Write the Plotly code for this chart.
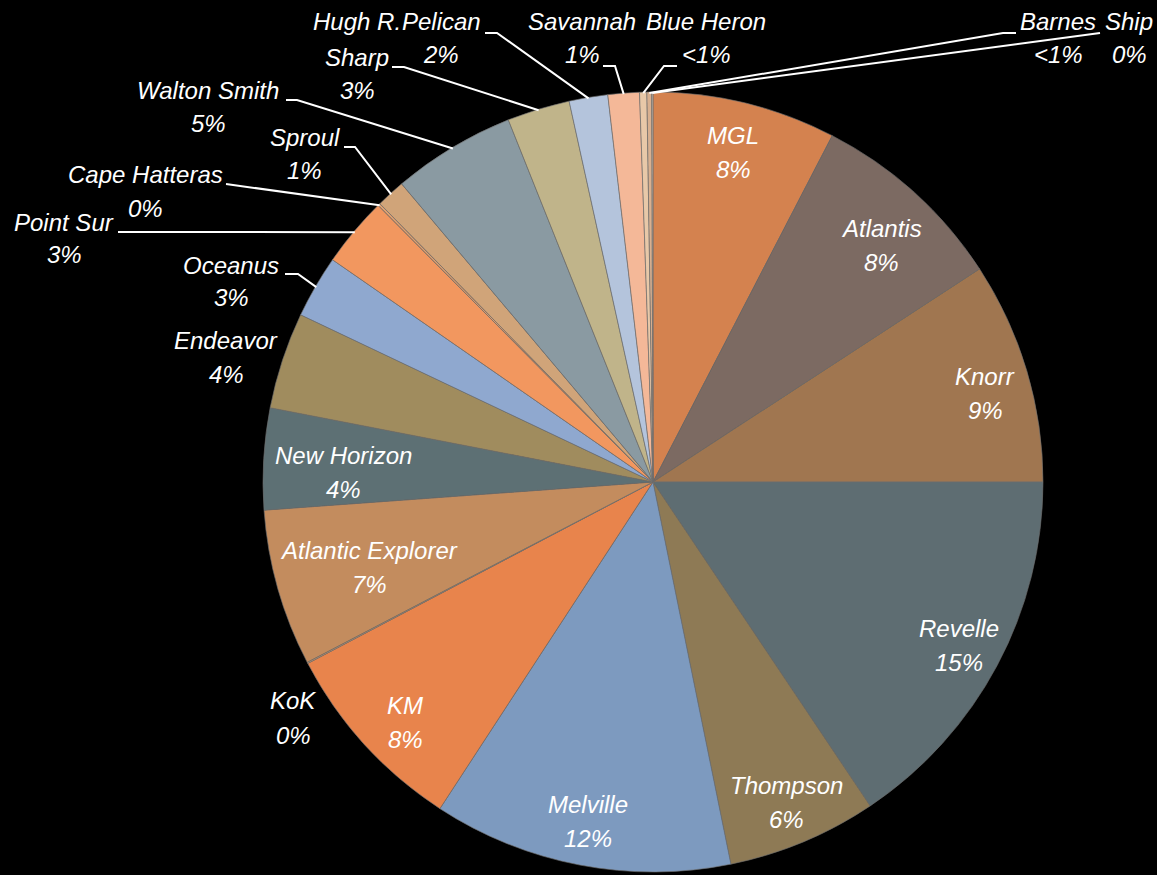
import math
import plotly.graph_objects as go

# ---------------- data ----------------
ships = ["MGL", "Atlantis", "Knorr", "Revelle", "Thompson", "Melville", "KM", "KoK",
         "Atlantic Explorer", "New Horizon", "Endeavor", "Oceanus", "Point Sur",
         "Cape Hatteras", "Sproul", "Walton Smith", "Hugh R. Sharp", "Pelican",
         "Savannah", "Blue Heron", "Barnes", "Ship"]
shares = [7.6, 8.2, 9.2, 15.6, 6.2, 12.4, 8.1, 0.05,
          6.5, 4.2, 4.0, 2.6, 2.9,
          0.1, 1.2, 5.1, 2.6, 1.6,
          1.3, 0.3, 0.2, 0.05]
pct_labels = ["8%", "8%", "9%", "15%", "6%", "12%", "8%", "0%",
              "7%", "4%", "4%", "3%", "3%",
              "0%", "1%", "5%", "3%", "2%",
              "1%", "<1%", "<1%", "0%"]

# ---------------- styles ----------------
colors = ["#d4824f", "#7c6a62", "#a07650", "#5e6d72", "#8e7a55", "#7d9abf", "#e8844c", "#c89a70",
          "#c38c5e", "#5d7074", "#a08c5e", "#8fa8cf", "#f2975f",
          "#e0a070", "#d0a479", "#8a9aa2", "#c0b48a", "#b4c4dc",
          "#f4b898", "#e8c8a8", "#d8b090", "#c8b8a8"]

W, H = 1157, 875
CX, CY, R = 653, 482, 390

# inside labels: (radial position as fraction of radius, angular nudge in degrees)
inside_pos = {"MGL": (0.87, 0), "Atlantis": (0.843, 2), "Knorr": (0.882, 1.6),
              "Revelle": (0.89, 0), "Thompson": (0.89, 0), "Melville": (0.885, 0),
              "KM": (0.885, -1.8), "Atlantic Explorer": (0.76, -1),
              "New Horizon": (0.795, -1.7)}
# outside labels: text center x, line centers y, leader tail points (px)
outside = {
    "KoK": (293, [700, 735], []),
    "Endeavor": (226, [340, 374], []),
    "Oceanus": (231, [265, 297], [(285, 274), (298, 274)]),
    "Point Sur": (64, [222, 255], [(118, 232)]),
    "Cape Hatteras": (145, [175, 208], [(226, 184)]),
    "Sproul": (305, [137, 170], [(344, 147), (355, 147)]),
    "Walton Smith": (208, [90, 123], [(286, 100), (297, 100)]),
    "Hugh R. Sharp": (357, [22, 57, 90], [(392, 67), (404, 67)]),
    "Pelican": (441, [22, 55], [(485, 33), (497, 33)]),
    "Savannah": (582, [22, 55], [(603, 66), (615, 66)]),
    "Blue Heron": (706, [22, 55], [(677, 66), (664, 66)]),
    "Barnes": (1058, [22, 55], [(1016, 33), (1003, 33)]),
    "Ship": (1129, [22, 55], [(1100, 33)]),
}
line_texts = {"Hugh R. Sharp": ["Hugh R.", "Sharp"]}

FONT = dict(family="Liberation Sans, Arial, sans-serif", size=24, color="white", style="italic")


def px2paper(x, y):
    return x / W, 1 - y / H


fig = go.Figure(go.Pie(
    labels=ships, values=shares, sort=False, direction="clockwise", rotation=0,
    marker=dict(colors=colors, line=dict(color="rgba(110,110,110,0.9)", width=0.7)),
    textinfo="none", hoverinfo="label+percent", showlegend=False,
    domain=dict(x=[(CX - R) / W, (CX + R) / W], y=[(H - CY - R) / H, (H - CY + R) / H]),
))

total = sum(shares)
annotations, shapes = [], []
cum = 0.0
for name, v, pct in zip(ships, shares, pct_labels):
    a0 = cum / total * 360
    cum += v
    a1 = cum / total * 360
    mid_deg = (a0 + a1) / 2
    lines = line_texts.get(name, [name]) + [pct]
    if name in inside_pos:
        frac, nudge = inside_pos[name]
        ang = math.radians(mid_deg + nudge)
        rr = R * frac
        x = CX + rr * math.sin(ang)
        y = CY - rr * math.cos(ang)
        ys = [y - 17, y + 17]
        xs = x
    else:
        mid = math.radians(mid_deg)
        xs, ys, tail = outside[name]
        if tail:
            ex = CX + (R - 1) * math.sin(mid)
            ey = CY - (R - 1) * math.cos(mid)
            pts = tail + [(ex, ey)]
            path = ""
            for i, (px, py) in enumerate(pts):
                qx, qy = px2paper(px, py)
                path += ("M" if i == 0 else " L") + f" {qx:.5f},{qy:.5f}"
            shapes.append(dict(type="path", path=path, xref="paper", yref="paper",
                               line=dict(color="white", width=2)))
    for t, ly in zip(lines, ys):
        ax, ay = px2paper(xs, ly)
        annotations.append(dict(text=t, x=ax, y=ay, xref="paper", yref="paper",
                                xanchor="center", yanchor="middle", showarrow=False,
                                font=FONT))

fig.update_layout(
    width=W, height=H, margin=dict(l=0, r=0, t=0, b=0),
    paper_bgcolor="black", plot_bgcolor="black",
    annotations=annotations, shapes=shapes,
)
fig.write_html("out.html", config={"displayModeBar": False},
               post_script="document.body.style.margin='0';document.body.style.background='black';")
